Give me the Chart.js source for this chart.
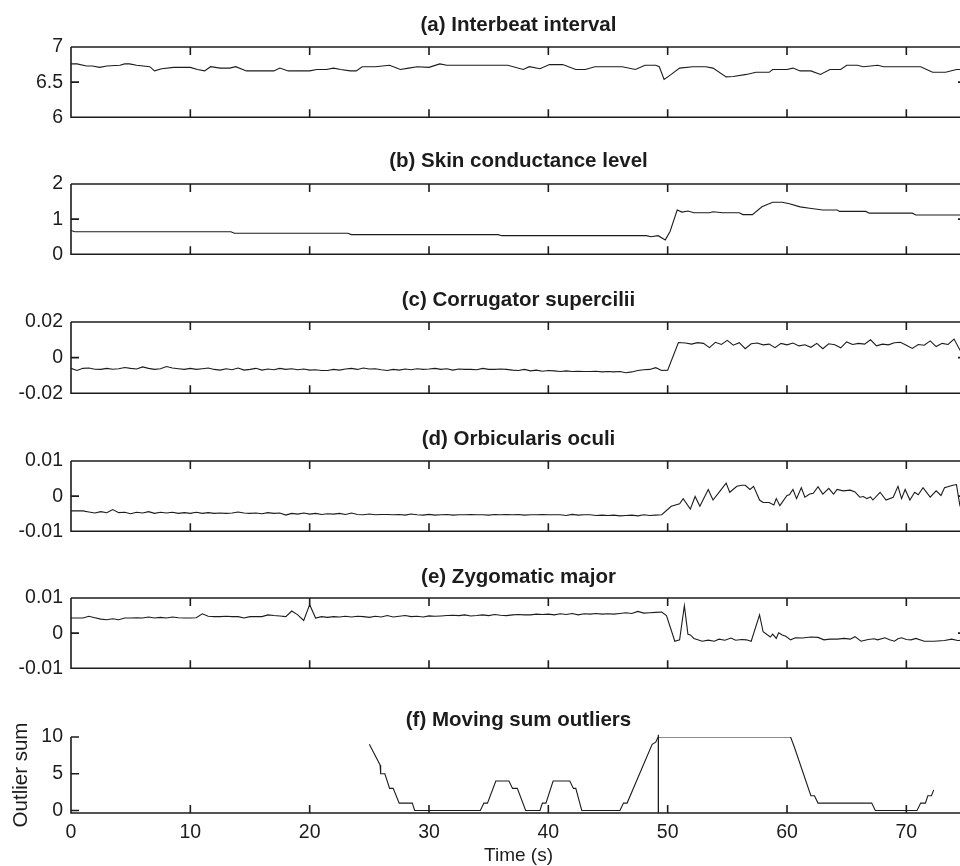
<!DOCTYPE html>
<html>
<head>
<meta charset="utf-8">
<script src="https://cdn.jsdelivr.net/npm/chart.js@4.4.1/dist/chart.umd.min.js"></script>
<style>
  html, body { margin: 0; padding: 0; background: #fff; }
  #fig { position: relative; width: 960px; height: 866px; overflow: hidden; }
  #fig canvas { position: absolute; left: 0; }
</style>
</head>
<body>
<div id="fig"></div>
<script>
// shared x axis (seconds)
const xTicks = [0, 10, 20, 30, 40, 50, 60, 70];
const xLabels = ['0', '10', '20', '30', '40', '50', '60', '70'];

// (a) interbeat interval
const tA = [0, 0.5, 1.3, 1.8, 2.4, 3.0, 4.1, 4.5, 4.9, 5.5,
  6.6, 7.0, 7.6, 8.6, 10.0, 10.6, 11.2, 11.7, 12.5, 13.3,
  13.8, 14.7, 17.0, 17.5, 18.2, 20.0, 20.6, 21.4, 22.0, 22.6,
  23.4, 23.9, 24.4, 25.5, 26.7, 27.6, 28.3, 29.0, 30.0, 30.9,
  31.5, 34.3, 36.6, 37.9, 38.4, 39.3, 40.1, 41.2, 42.3, 43.1,
  43.9, 46.2, 47.3, 48.1, 49.0, 49.3, 49.7, 50.3, 51.0, 52.1,
  53.2, 53.8, 54.9, 55.5, 56.6, 57.4, 58.5, 58.8, 60.0, 60.5,
  61.1, 62.0, 62.8, 63.6, 64.5, 65.0, 65.9, 66.4, 67.6, 68.1,
  71.2, 72.2, 73.3, 74.2, 75];
const vA = [6.76, 6.76, 6.73, 6.73, 6.71, 6.73, 6.74, 6.76, 6.76, 6.74,
  6.72, 6.66, 6.69, 6.71, 6.71, 6.68, 6.66, 6.72, 6.70, 6.70,
  6.72, 6.66, 6.66, 6.70, 6.66, 6.66, 6.68, 6.68, 6.70, 6.68,
  6.66, 6.66, 6.72, 6.72, 6.74, 6.68, 6.70, 6.72, 6.71, 6.76,
  6.74, 6.74, 6.74, 6.68, 6.72, 6.69, 6.75, 6.75, 6.68, 6.68,
  6.72, 6.72, 6.68, 6.74, 6.74, 6.72, 6.54, 6.61, 6.70, 6.72,
  6.72, 6.70, 6.575, 6.58, 6.61, 6.64, 6.64, 6.68, 6.68, 6.70,
  6.66, 6.66, 6.61, 6.68, 6.68, 6.74, 6.74, 6.72, 6.74, 6.72,
  6.72, 6.64, 6.64, 6.68, 6.68];
const yTicksA = [6, 6.5, 7];
const yLabelsA = ['6', '6.5', '7'];

// (b) skin conductance level
const tB = [0, 0.3, 13.4, 13.7, 23.2, 23.5, 35.8, 36.1, 48.2, 48.6,
  49.2, 49.8, 50.2, 50.8, 51.2, 51.7, 52.2, 53.5, 53.8, 54.6,
  56.0, 56.3, 57.1, 57.9, 58.8, 59.6, 60.2, 61.1, 61.9, 63.0,
  64.2, 64.4, 66.6, 66.9, 70.5, 70.8, 75];
const vB = [0.68, 0.64, 0.64, 0.60, 0.60, 0.56, 0.56, 0.53, 0.53, 0.50,
  0.53, 0.41, 0.65, 1.26, 1.20, 1.23, 1.18, 1.18, 1.21, 1.18,
  1.18, 1.13, 1.13, 1.35, 1.48, 1.48, 1.44, 1.35, 1.31, 1.26,
  1.26, 1.22, 1.22, 1.17, 1.17, 1.12, 1.12];
const yTicksB = [0, 1, 2];
const yLabelsB = ['0', '1', '2'];

// sample times of the EMG traces before the event (every 0.5 s)
const tEarly = [0, 0.5, 1, 1.5, 2, 2.5, 3, 3.5, 4, 4.5,
  5, 5.5, 6, 6.5, 7, 7.5, 8, 8.5, 9, 9.5,
  10, 10.5, 11, 11.5, 12, 12.5, 13, 13.5, 14, 14.5,
  15, 15.5, 16, 16.5, 17, 17.5, 18, 18.5, 19, 19.5,
  20, 20.5, 21, 21.5, 22, 22.5, 23, 23.5, 24, 24.5,
  25, 25.5, 26, 26.5, 27, 27.5, 28, 28.5, 29, 29.5,
  30, 30.5, 31, 31.5, 32, 32.5, 33, 33.5, 34, 34.5,
  35, 35.5, 36, 36.5, 37, 37.5, 38, 38.5, 39, 39.5,
  40, 40.5, 41, 41.5, 42, 42.5, 43, 43.5, 44, 44.5,
  45, 45.5, 46, 46.5, 47, 47.5, 48, 48.5, 49, 49.5];

// (c) corrugator supercilii
const vCEarly = [-0.0060, -0.0072, -0.0060, -0.0058, -0.0065, -0.0066, -0.0060, -0.0065, -0.0062, -0.0055,
  -0.0060, -0.0064, -0.0052, -0.0060, -0.0066, -0.0062, -0.0050, -0.0058, -0.0062, -0.0066,
  -0.0060, -0.0066, -0.0062, -0.0058, -0.0066, -0.0070, -0.0062, -0.0068, -0.0058, -0.0070,
  -0.0066, -0.0060, -0.0070, -0.0064, -0.0068, -0.0060, -0.0066, -0.0062, -0.0068, -0.0064,
  -0.0070, -0.0068, -0.0072, -0.0072, -0.0066, -0.0070, -0.0064, -0.0060, -0.0066, -0.0058,
  -0.0064, -0.0062, -0.0068, -0.0072, -0.0066, -0.0070, -0.0064, -0.0068, -0.0062, -0.0066,
  -0.0064, -0.0060, -0.0066, -0.0062, -0.0070, -0.0064, -0.0066, -0.0066, -0.0068, -0.0060,
  -0.0066, -0.0066, -0.0064, -0.0066, -0.0070, -0.0072, -0.0066, -0.0074, -0.0070, -0.0076,
  -0.0072, -0.0074, -0.0078, -0.0074, -0.0078, -0.0076, -0.0078, -0.0078, -0.0076, -0.0080,
  -0.0078, -0.0080, -0.0078, -0.0085, -0.0080, -0.0072, -0.0068, -0.0066, -0.0056, -0.0072];
const tCLate = [50, 50.9, 51.5, 52, 52.5, 53, 53.5, 54, 54.5, 55, 55.5, 56,
  56.5, 57, 57.5, 58, 58.5, 59, 59.5, 60, 60.5, 61,
  61.5, 62, 62.5, 63, 63.5, 64, 64.5, 65, 65.5, 66,
  66.5, 67, 67.5, 68, 68.5, 69, 69.5, 70, 70.5, 71,
  71.5, 72, 72.5, 73, 73.5, 74, 74.5, 75];
const vCLate = [-0.0070, 0.0085, 0.0082, 0.0076, 0.0084, 0.0080, 0.0056, 0.0086, 0.0074, 0.0097, 0.0070, 0.0084,
  0.0050, 0.0078, 0.0082, 0.0072, 0.0076, 0.0056, 0.0080, 0.0072, 0.0082, 0.0066,
  0.0072, 0.0058, 0.0080, 0.0050, 0.0078, 0.0072, 0.0055, 0.0088, 0.0074, 0.0080,
  0.0076, 0.0100, 0.0066, 0.0076, 0.0072, 0.0084, 0.0086, 0.0070, 0.0052, 0.0074,
  0.0070, 0.0094, 0.0062, 0.0080, 0.0074, 0.0104, 0.0042, 0.0005];
const yTicksC = [-0.02, 0, 0.02];
const yLabelsC = ['-0.02', '0', '0.02'];

// (d) orbicularis oculi
const vDEarly = [-0.0042, -0.0042, -0.0042, -0.0045, -0.0048, -0.0044, -0.0047, -0.0038, -0.0047, -0.0046,
  -0.0050, -0.0046, -0.0048, -0.0044, -0.0049, -0.0046, -0.0048, -0.0046, -0.0049, -0.0047,
  -0.0049, -0.0046, -0.0049, -0.0047, -0.0049, -0.0048, -0.0049, -0.0048, -0.0045, -0.0048,
  -0.0049, -0.0048, -0.0050, -0.0047, -0.0049, -0.0048, -0.0054, -0.0049, -0.0051, -0.0048,
  -0.0051, -0.0049, -0.0052, -0.0050, -0.0051, -0.0049, -0.0052, -0.0048, -0.0052, -0.0053,
  -0.0051, -0.0053, -0.0052, -0.0052, -0.0053, -0.0052, -0.0054, -0.0051, -0.0053, -0.0054,
  -0.0052, -0.0054, -0.0053, -0.0052, -0.0054, -0.0053, -0.0053, -0.0052, -0.0053, -0.0053,
  -0.0054, -0.0052, -0.0053, -0.0052, -0.0053, -0.0052, -0.0054, -0.0053, -0.0053, -0.0052,
  -0.0053, -0.0053, -0.0053, -0.0055, -0.0052, -0.0054, -0.0053, -0.0053, -0.0055, -0.0054,
  -0.0055, -0.0054, -0.0056, -0.0055, -0.0054, -0.0056, -0.0053, -0.0055, -0.0054, -0.0053];
const tDLate = [50.3, 51.0, 51.3, 51.9, 52.3, 52.7, 53.4, 53.8, 54.4, 54.9,
  55.2, 55.8, 56.2, 56.5, 56.9, 57.2, 57.7, 58.0, 58.5, 58.9,
  59.1, 59.4, 60.0, 60.2, 60.5, 60.8, 61.2, 61.5, 61.9, 62.2,
  62.6, 63.0, 63.5, 63.9, 64.2, 64.7, 65.3, 65.7, 66.1, 66.4,
  66.7, 67.0, 67.2, 67.8, 68.3, 68.9, 69.3, 69.6, 69.9, 70.3,
  70.7, 71.0, 71.4, 72.0, 72.5, 72.9, 73.2, 73.9, 74.2, 74.5];
const vDLate = [-0.0029, -0.0022, -0.0007, -0.0037, -0.0001, -0.0029, 0.0019, -0.0011, 0.0015, 0.0037,
  0.0011, 0.0028, 0.0031, 0.0031, 0.0019, 0.0028, -0.0011, -0.0018, -0.0018, -0.0025,
  -0.0007, -0.0027, 0.0002, 0.0004, 0.0019, -0.0007, 0.0024, -0.0003, 0.0006, 0.0008,
  0.0027, 0.0006, 0.0022, 0.0006, 0.0019, 0.0015, 0.0017, 0.0012, -0.0003, -0.0001,
  -0.0007, -0.0002, -0.0011, 0.0011, -0.0011, -0.0003, 0.0028, -0.0007, 0.0019, -0.0011,
  0.0011, 0.0004, 0.0024, -0.0003, 0.0015, 0.0002, 0.0024, 0.0031, 0.0033, -0.0029];
const yTicksD = [-0.01, 0, 0.01];
const yLabelsD = ['-0.01', '0', '0.01'];

// (e) zygomatic major
const vEEarly = [0.0043, 0.0043, 0.0043, 0.0048, 0.0044, 0.0040, 0.0038, 0.0041, 0.0038, 0.0043,
  0.0043, 0.0044, 0.0043, 0.0046, 0.0043, 0.0045, 0.0043, 0.0046, 0.0044, 0.0043,
  0.0043, 0.0044, 0.0055, 0.0048, 0.0047, 0.0047, 0.0048, 0.0047, 0.0047, 0.0043,
  0.0047, 0.0047, 0.0047, 0.0052, 0.0050, 0.0049, 0.0047, 0.0063, 0.0052, 0.0036,
  0.0081, 0.0043, 0.0047, 0.0045, 0.0047, 0.0046, 0.0048, 0.0046, 0.0048, 0.0047,
  0.0045, 0.0048, 0.0046, 0.0050, 0.0046, 0.0048, 0.0050, 0.0047, 0.0048, 0.0046,
  0.0049, 0.0048, 0.0049, 0.0050, 0.0051, 0.0050, 0.0052, 0.0049, 0.0050, 0.0052,
  0.0050, 0.0053, 0.0051, 0.0050, 0.0052, 0.0053, 0.0052, 0.0052, 0.0054, 0.0053,
  0.0054, 0.0052, 0.0055, 0.0053, 0.0056, 0.0052, 0.0055, 0.0054, 0.0056, 0.0054,
  0.0055, 0.0054, 0.0056, 0.0058, 0.0056, 0.0062, 0.0057, 0.0058, 0.0059, 0.0060];
const tELate = [49.9, 50.6, 51.0, 51.4, 51.7, 51.9, 52.2, 52.9, 53.4, 53.9,
  54.3, 54.8, 55.3, 55.7, 56.2, 56.6, 57.0, 57.7, 58.0, 58.6,
  58.8, 59.1, 59.3, 59.6, 59.9, 60.3, 60.7, 61.3, 62.0, 62.6,
  63.1, 63.6, 64.2, 64.8, 65.3, 65.7, 66.2, 66.8, 67.3, 67.6,
  68.2, 68.6, 69.0, 69.3, 69.6, 70.0, 70.4, 70.8, 71.5, 72.3,
  73.2, 73.8, 74.3, 74.8];
const vELate = [0.0050, -0.0023, -0.0019, 0.0078, -0.0003, -0.0005, -0.0015, -0.0023, -0.0020, -0.0023,
  -0.0017, -0.0020, -0.0014, -0.0020, -0.0018, -0.0019, -0.0023, 0.0052, 0.0004, -0.0011,
  -0.0003, -0.0015, 0.0001, -0.0005, -0.0009, -0.0019, -0.0013, -0.0014, -0.0011, -0.0012,
  -0.0019, -0.0017, -0.0017, -0.0015, -0.0017, -0.0010, -0.0023, -0.0018, -0.0016, -0.0019,
  -0.0013, -0.0019, -0.0023, -0.0016, -0.0013, -0.0018, -0.0019, -0.0015, -0.0023, -0.0023,
  -0.0021, -0.0017, -0.0021, -0.0020];
const yTicksE = [-0.01, 0, 0.01];
const yLabelsE = ['-0.01', '0', '0.01'];

// (f) moving sum of outliers
const tF = [25.0, 25.9, 25.95, 26.3, 26.7, 27.0, 27.5, 28.6, 28.8,
  34.3, 34.6, 34.9, 35.6, 36.7, 37.0, 37.4, 38.1,
  39.3, 39.5, 39.8, 40.4, 41.8, 42.1, 42.3, 42.8,
  46.0, 46.3, 46.6, 48.7, 49.0, 49.2,
  60.3, 60.6, 62.0, 62.3, 62.6,
  67.1, 67.4, 70.9, 71.2, 71.6, 71.8, 72.1, 72.3];
const vF = [9, 6.2, 5, 5, 3, 3, 1, 1, 0,
  0, 1, 1, 4, 4, 3, 3, 0,
  0, 1, 1, 4, 4, 3, 3, 0,
  0, 1, 1, 9, 9.3, 10,
  10, 8.7, 2, 2, 1,
  1, 0, 0, 1, 1, 2, 2, 2.8];
// event marker drawn as a vertical line
const tMarker = [49.22, 49.22];
const vMarker = [-0.35, 10.3];
const yTicksF = [0, 5, 10];
const yLabelsF = ['0', '5', '10'];

const FONT = "'Liberation Sans', Arial, Helvetica, sans-serif";
const INK = '#1c1c1c';
Chart.defaults.font.family = FONT;
Chart.defaults.color = INK;

const pts = (t, v) => t.map((x, i) => ({ x, y: v[i] }));

const panels = [
  { title: '(a) Interbeat interval', data: pts(tA, vA), yMin: 6, yMax: 7, yTicks: yTicksA, yLabels: yLabelsA, plotTop: 47, plotH: 76, titleY: 25 },
  { title: '(b) Skin conductance level', data: pts(tB, vB), yMin: 0, yMax: 2, yTicks: yTicksB, yLabels: yLabelsB, plotTop: 184, plotH: 76, titleY: 161 },
  { title: '(c) Corrugator supercilii', data: pts(tEarly.concat(tCLate), vCEarly.concat(vCLate)), yMin: -0.02, yMax: 0.02, yTicks: yTicksC, yLabels: yLabelsC, plotTop: 322, plotH: 77, titleY: 300 },
  { title: '(d) Orbicularis oculi', data: pts(tEarly.concat(tDLate), vDEarly.concat(vDLate)), yMin: -0.01, yMax: 0.01, yTicks: yTicksD, yLabels: yLabelsD, plotTop: 461, plotH: 76, titleY: 439.5 },
  { title: '(e) Zygomatic major', data: pts(tEarly.concat(tELate), vEEarly.concat(vELate)), yMin: -0.01, yMax: 0.01, yTicks: yTicksE, yLabels: yLabelsE, plotTop: 598, plotH: 76, titleY: 577.5 },
  { title: '(f) Moving sum outliers', data: pts(tF, vF), marker: pts(tMarker, vMarker), yMin: -0.35, yMax: 10, yTicks: yTicksF, yLabels: yLabelsF, plotTop: 737, plotH: 76, titleY: 720, last: true },
];

// box, inward tick marks (MATLAB style)
const framePlugin = {
  id: 'frame',
  afterDraw(chart, args, opts) {
    const { ctx, chartArea: { left, right, top, bottom }, scales: { x, y } } = chart;
    const len = 8;
    ctx.save();
    ctx.strokeStyle = INK;
    ctx.lineWidth = 1.6;
    ctx.beginPath();
    ctx.moveTo(left, top);
    ctx.lineTo(left, bottom);
    ctx.lineTo(right, bottom);
    if (opts.box) {
      ctx.moveTo(left, top);
      ctx.lineTo(right, top);
      ctx.lineTo(right, bottom);
    }
    xTicks.forEach(v => {
      if (v === 0) return;
      const px = x.getPixelForValue(v);
      ctx.moveTo(px, bottom);
      ctx.lineTo(px, bottom - len);
      if (opts.box) {
        ctx.moveTo(px, top);
        ctx.lineTo(px, top + len);
      }
    });
    y.ticks.forEach(t => {
      const py = y.getPixelForValue(t.value);
      ctx.moveTo(left, py);
      ctx.lineTo(left + len, py);
      if (opts.box) {
        ctx.moveTo(right, py);
        ctx.lineTo(right - len, py);
      }
    });
    ctx.stroke();
    ctx.restore();
  }
};

const fig = document.getElementById('fig');
const TITLE_BOX = 40;
const TITLE_SIZE = 20.5;
const TITLE_LH = TITLE_SIZE * 1.2;
const TICK_SIZE = 19.5;

panels.forEach(p => {
  const canvasTop = p.plotTop - TITLE_BOX;
  const height = p.last ? 866 - canvasTop : TITLE_BOX + p.plotH + 14;
  const canvas = document.createElement('canvas');
  canvas.width = 1000;
  canvas.height = height;
  canvas.style.width = '1000px';
  canvas.style.height = height + 'px';
  canvas.style.top = canvasTop + 'px';
  fig.appendChild(canvas);

  const padTop = p.titleY - canvasTop - TITLE_LH / 2;
  const datasets = [{
    data: p.data,
    borderColor: INK,
    borderWidth: 1.1,
    pointRadius: 0,
    tension: 0,
    fill: false,
  }];
  if (p.marker) {
    datasets.push({
      data: p.marker,
      borderColor: INK,
      borderWidth: 1.3,
      pointRadius: 0,
      clip: false,
    });
  }

  new Chart(canvas, {
    type: 'line',
    data: { datasets },
    options: {
      responsive: false,
      animation: false,
      devicePixelRatio: 1,
      layout: { padding: { left: 0, right: 34, top: 0, bottom: p.last ? 0 : 14 } },
      plugins: {
        legend: { display: false },
        tooltip: { enabled: false },
        title: {
          display: true,
          text: p.title,
          fullSize: false,
          color: INK,
          font: { size: TITLE_SIZE, weight: 'bold', lineHeight: 1.2 },
          padding: { top: padTop, bottom: TITLE_BOX - TITLE_LH - padTop },
        },
        frame: { box: !p.last },
      },
      scales: {
        x: {
          type: 'linear',
          min: 0,
          max: 75,
          display: !!p.last,
          afterBuildTicks: s => { s.ticks = xTicks.map(v => ({ value: v })); },
          afterFit: s => { if (p.last) s.height = height - TITLE_BOX - p.plotH; },
          grid: { display: false, drawTicks: false },
          border: { display: false },
          ticks: {
            padding: 8,
            maxRotation: 0,
            font: { size: TICK_SIZE },
            color: INK,
            callback: (v, i) => xLabels[i],
          },
          title: {
            display: !!p.last,
            text: 'Time (s)',
            color: INK,
            font: { size: 19, lineHeight: 1 },
            padding: { top: 0, bottom: 1 },
          },
        },
        y: {
          min: p.yMin,
          max: p.yMax,
          afterBuildTicks: s => { s.ticks = p.yTicks.map(v => ({ value: v })); },
          afterFit: s => { s.width = 71; },
          grid: { display: false, drawTicks: false },
          border: { display: false },
          ticks: {
            padding: 8,
            font: { size: TICK_SIZE },
            color: INK,
            callback: (v, i) => p.yLabels[i],
          },
          title: {
            display: !!p.last,
            text: 'Outlier sum',
            color: INK,
            font: { size: 20.5, lineHeight: 1 },
            padding: { top: 11.5, bottom: 0 },
          },
        },
      },
    },
    plugins: [framePlugin],
  });
});
</script>
</body>
</html>
